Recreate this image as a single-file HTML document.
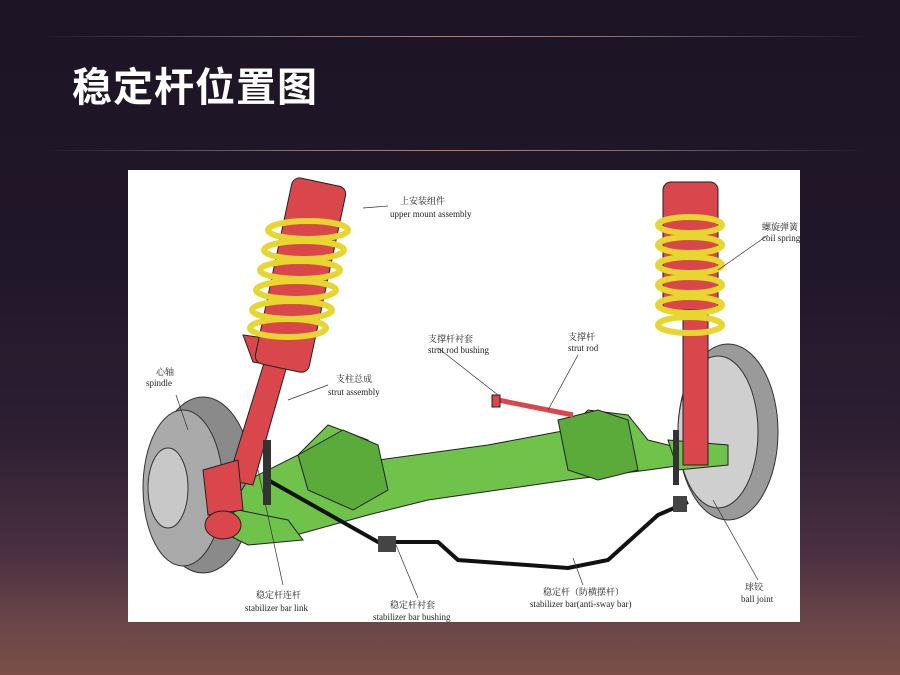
<!DOCTYPE html>
<html><head><meta charset="utf-8"><style>
html,body{margin:0;padding:0}
body{width:900px;height:675px;overflow:hidden;position:relative;font-family:"Liberation Sans","Noto Sans CJK SC",sans-serif;
background:linear-gradient(180deg,#1c1424 0%,#21172a 40%,#2e1f33 65%,#4a3040 82%,#6a4548 92%,#7a5048 100%);}
.line{position:absolute;left:40px;width:830px;height:1px;background:linear-gradient(90deg,rgba(255,255,255,0),rgba(200,170,160,.6) 30%,rgba(230,150,110,.8) 50%,rgba(200,170,160,.6) 70%,rgba(255,255,255,0));}
h1{position:absolute;left:72px;top:62px;margin:0;font-size:40px;font-weight:bold;color:#fff;letter-spacing:1px;font-family:"Liberation Sans","Noto Sans CJK SC",sans-serif;line-height:52px}
.img{position:absolute;left:128px;top:170px;width:672px;height:452px;background:#fff}
svg text{font-family:"Liberation Serif","Noto Serif CJK SC",serif;font-size:9px;fill:#222}
</style></head><body>
<div class="line" style="top:36px"></div>
<div class="line" style="top:150px"></div>
<h1>稳定杆位置图</h1>
<div class="img">
<svg width="672" height="452" viewBox="0 0 672 452">
<ellipse cx="75" cy="315" rx="50" ry="88" fill="#8a8a8a" stroke="#333"/>
<ellipse cx="55" cy="318" rx="40" ry="78" fill="#aaa" stroke="#333"/>
<ellipse cx="40" cy="318" rx="20" ry="40" fill="#c8c8c8" stroke="#333"/>
<ellipse cx="600" cy="262" rx="50" ry="88" fill="#9a9a9a" stroke="#333"/>
<ellipse cx="590" cy="262" rx="40" ry="76" fill="#cfcfcf" stroke="#333"/>
<path d="M95 350 L150 370 L240 345 L300 330 L440 310 L520 300 L555 295 L560 280 L520 270 L500 245 L460 240 L440 260 L360 275 L250 290 L240 270 L200 255 L170 285 L120 310 Z" fill="#6fc24a" stroke="#222"/>
<path d="M170 285 L215 260 L250 275 L260 320 L225 340 L180 320 Z" fill="#5aab3a" stroke="#222"/>
<path d="M430 250 L470 240 L500 250 L510 300 L470 310 L440 300 Z" fill="#5aab3a" stroke="#222"/>
<path d="M80 355 L120 375 L175 370 L160 350 L110 340 Z" fill="#6fc24a" stroke="#222"/>
<path d="M540 270 L600 275 L600 295 L550 300 Z" fill="#6fc24a" stroke="#222"/>
<!-- left strut -->
<path d="M100 310 L140 180 L162 185 L125 315 Z" fill="#d9474c" stroke="#222"/>
<path d="M115 165 L165 172 L160 198 L125 192 Z" fill="#d9474c" stroke="#222"/>
<rect x="145" y="10" width="55" height="190" rx="8" fill="#d9474c" stroke="#222" transform="rotate(12 172 105)"/>
<g fill="none" stroke="#e8d630" stroke-width="6">
<ellipse cx="180" cy="60" rx="40" ry="9"/><ellipse cx="176" cy="80" rx="40" ry="9"/><ellipse cx="172" cy="100" rx="40" ry="9"/><ellipse cx="168" cy="120" rx="40" ry="9"/><ellipse cx="164" cy="140" rx="40" ry="9"/><ellipse cx="160" cy="158" rx="38" ry="9"/></g>
<!-- right strut -->
<rect x="535" y="12" width="55" height="130" rx="8" fill="#d9474c" stroke="#222"/>
<rect x="555" y="140" width="25" height="155" fill="#d9474c" stroke="#222"/>
<g fill="none" stroke="#e8d630" stroke-width="6">
<ellipse cx="562" cy="55" rx="32" ry="8"/><ellipse cx="562" cy="75" rx="32" ry="8"/><ellipse cx="562" cy="95" rx="32" ry="8"/><ellipse cx="562" cy="115" rx="32" ry="8"/><ellipse cx="562" cy="135" rx="32" ry="8"/><ellipse cx="562" cy="155" rx="32" ry="8"/></g>
<path d="M75 300 L110 290 L115 340 L80 345 Z" fill="#d9474c" stroke="#222"/>
<ellipse cx="95" cy="355" rx="18" ry="14" fill="#d9474c" stroke="#222"/>
<path d="M140 310 L250 372 L310 372 L330 390 L440 398 L480 390 L530 345 L560 332" fill="none" stroke="#111" stroke-width="4"/>
<rect x="250" y="366" width="18" height="16" fill="#444"/><rect x="545" y="326" width="14" height="16" fill="#444"/>
<rect x="135" y="270" width="8" height="65" fill="#333"/><rect x="545" y="260" width="6" height="55" fill="#333"/>
<path d="M370 230 L445 245" stroke="#d9474c" stroke-width="5"/><rect x="364" y="225" width="8" height="12" fill="#d9474c" stroke="#222"/>
<g stroke="#333" stroke-width="0.7">
<line x1="235" y1="38" x2="260" y2="36"/><line x1="590" y1="100" x2="640" y2="65"/>
<line x1="310" y1="178" x2="370" y2="225"/><line x1="420" y1="240" x2="450" y2="185"/>
<line x1="160" y1="230" x2="200" y2="215"/><line x1="48" y1="225" x2="60" y2="260"/>
<line x1="130" y1="300" x2="155" y2="415"/><line x1="268" y1="375" x2="290" y2="428"/>
<line x1="445" y1="388" x2="455" y2="415"/><line x1="585" y1="330" x2="630" y2="410"/>
</g>
<text x="272" y="34">上安装组件</text><text x="262" y="47">upper mount assembly</text>
<text x="634" y="60">螺旋弹簧</text><text x="634" y="71">coil spring</text>
<text x="300" y="172">支撑杆衬套</text><text x="300" y="183">strut rod bushing</text>
<text x="440" y="170">支撑杆</text><text x="440" y="181">strut rod</text>
<text x="208" y="212">支柱总成</text><text x="200" y="225">strut assembly</text>
<text x="28" y="205">心轴</text><text x="18" y="216">spindle</text>
<text x="128" y="428">稳定杆连杆</text><text x="117" y="441">stabilizer bar link</text>
<text x="262" y="438">稳定杆衬套</text><text x="245" y="450">stabilizer bar bushing</text>
<text x="415" y="425">稳定杆（防横摆杆）</text><text x="402" y="437">stabilizer bar(anti-sway bar)</text>
<text x="617" y="420">球铰</text><text x="613" y="432">ball joint</text>
</svg></div>
</body></html>
